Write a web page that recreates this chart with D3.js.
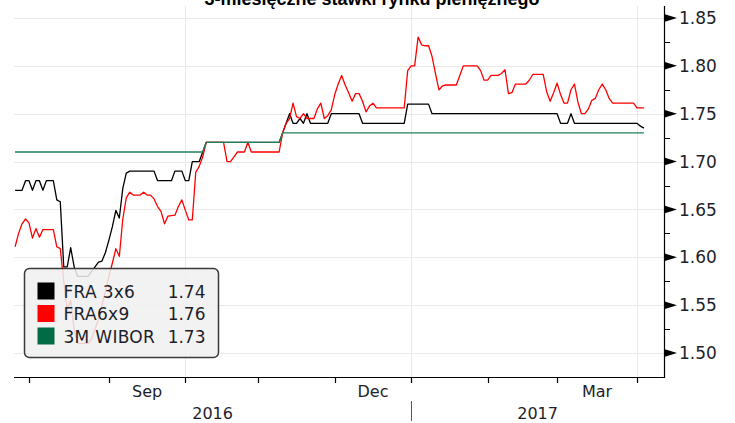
<!DOCTYPE html>
<html>
<head>
<meta charset="utf-8">
<script src="https://cdn.jsdelivr.net/npm/d3@7"></script>
<style>
    html, body { margin: 0; padding: 0; background: #fff; }
    svg { display: block; }
</style>
</head>
<body>
<div id="chart"></div>
<script>
'use strict';

var title = '3-miesięczne stawki rynku pieniężnego';

var seriesNames = ['FRA 3x6', 'FRA6x9', '3M WIBOR'];
var seriesColors = ['#000000', '#ff0000', '#006b45'];
var lastValues = ['1.74', '1.76', '1.73'];

var yTicks = [1.50, 1.55, 1.60, 1.65, 1.70, 1.75, 1.80, 1.85];
var monthLabels = ['Sep', 'Dec', 'Mar'];
var yearLabels = ['2016', '2017'];

var fra3x6 = [
    ['2016-07-26', 1.67], ['2016-07-28', 1.67], ['2016-07-29', 1.68], ['2016-08-01', 1.68],
    ['2016-08-02', 1.67], ['2016-08-03', 1.68], ['2016-08-04', 1.68], ['2016-08-05', 1.67],
    ['2016-08-08', 1.68], ['2016-08-10', 1.68], ['2016-08-11', 1.66], ['2016-08-12', 1.658],
    ['2016-08-15', 1.59], ['2016-08-16', 1.59], ['2016-08-17', 1.61], ['2016-08-18', 1.59],
    ['2016-08-19', 1.58], ['2016-08-24', 1.58], ['2016-08-25', 1.585], ['2016-08-26', 1.59],
    ['2016-08-29', 1.595], ['2016-08-30', 1.596], ['2016-08-31', 1.605], ['2016-09-01', 1.618],
    ['2016-09-02', 1.632], ['2016-09-05', 1.649], ['2016-09-06', 1.641], ['2016-09-07', 1.672],
    ['2016-09-08', 1.688], ['2016-09-09', 1.69], ['2016-09-20', 1.69], ['2016-09-21', 1.68],
    ['2016-09-27', 1.68], ['2016-09-28', 1.69], ['2016-09-30', 1.69], ['2016-10-03', 1.68],
    ['2016-10-04', 1.68], ['2016-10-05', 1.70], ['2016-10-07', 1.70], ['2016-10-10', 1.71],
    ['2016-10-11', 1.72], ['2016-11-09', 1.72], ['2016-11-10', 1.73], ['2016-11-11', 1.74],
    ['2016-11-14', 1.75], ['2016-11-15', 1.74], ['2016-11-16', 1.74], ['2016-11-17', 1.745],
    ['2016-11-18', 1.74], ['2016-11-21', 1.75], ['2016-11-22', 1.74], ['2016-11-29', 1.74],
    ['2016-11-30', 1.75], ['2016-12-12', 1.75], ['2016-12-13', 1.74], ['2016-12-29', 1.74],
    ['2016-12-30', 1.76], ['2017-01-09', 1.76], ['2017-01-10', 1.75], ['2017-03-01', 1.75],
    ['2017-03-02', 1.74], ['2017-03-06', 1.74], ['2017-03-07', 1.75], ['2017-03-08', 1.74],
    ['2017-04-03', 1.74], ['2017-04-04', 1.737], ['2017-04-05', 1.735]
];

var fra6x9 = [
    ['2016-07-26', 1.611], ['2016-07-27', 1.625], ['2016-07-28', 1.635], ['2016-07-29', 1.640],
    ['2016-08-01', 1.636], ['2016-08-02', 1.620], ['2016-08-03', 1.630], ['2016-08-04', 1.621],
    ['2016-08-05', 1.629], ['2016-08-10', 1.629], ['2016-08-11', 1.611], ['2016-08-12', 1.609],
    ['2016-08-15', 1.575], ['2016-08-16', 1.545], ['2016-08-17', 1.555], ['2016-08-18', 1.525],
    ['2016-08-19', 1.51], ['2016-08-24', 1.51], ['2016-08-25', 1.515], ['2016-08-26', 1.525],
    ['2016-08-29', 1.535], ['2016-08-30', 1.55], ['2016-08-31', 1.565], ['2016-09-01', 1.58],
    ['2016-09-02', 1.594], ['2016-09-05', 1.609], ['2016-09-06', 1.601], ['2016-09-07', 1.64],
    ['2016-09-08', 1.662], ['2016-09-09', 1.668], ['2016-09-12', 1.665], ['2016-09-14', 1.665],
    ['2016-09-15', 1.668], ['2016-09-16', 1.665], ['2016-09-19', 1.665], ['2016-09-20', 1.661],
    ['2016-09-21', 1.653], ['2016-09-22', 1.648], ['2016-09-23', 1.635], ['2016-09-26', 1.643],
    ['2016-09-28', 1.644], ['2016-09-29', 1.653], ['2016-09-30', 1.660], ['2016-10-03', 1.649],
    ['2016-10-04', 1.639], ['2016-10-05', 1.639], ['2016-10-06', 1.689], ['2016-10-07', 1.695],
    ['2016-10-10', 1.705], ['2016-10-11', 1.72], ['2016-10-18', 1.72], ['2016-10-19', 1.70],
    ['2016-10-20', 1.70], ['2016-10-21', 1.705], ['2016-10-24', 1.71], ['2016-10-26', 1.71],
    ['2016-10-27', 1.72], ['2016-10-28', 1.71], ['2016-11-09', 1.71], ['2016-11-10', 1.73],
    ['2016-11-11', 1.74], ['2016-11-14', 1.745], ['2016-11-15', 1.761], ['2016-11-16', 1.747],
    ['2016-11-17', 1.745], ['2016-11-18', 1.75], ['2016-11-21', 1.745], ['2016-11-23', 1.745],
    ['2016-11-24', 1.755], ['2016-11-25', 1.761], ['2016-11-28', 1.745], ['2016-11-29', 1.748],
    ['2016-11-30', 1.754], ['2016-12-01', 1.77], ['2016-12-02', 1.781], ['2016-12-05', 1.79],
    ['2016-12-06', 1.78], ['2016-12-07', 1.772], ['2016-12-08', 1.763], ['2016-12-09', 1.771],
    ['2016-12-12', 1.771], ['2016-12-13', 1.763], ['2016-12-14', 1.752], ['2016-12-15', 1.758],
    ['2016-12-16', 1.761], ['2016-12-19', 1.756], ['2016-12-29', 1.756], ['2016-12-30', 1.795],
    ['2017-01-02', 1.80], ['2017-01-03', 1.80], ['2017-01-04', 1.83], ['2017-01-05', 1.822],
    ['2017-01-06', 1.821], ['2017-01-09', 1.821], ['2017-01-10', 1.81], ['2017-01-11', 1.792],
    ['2017-01-12', 1.775], ['2017-01-13', 1.779], ['2017-01-16', 1.78], ['2017-01-19', 1.78],
    ['2017-01-20', 1.79], ['2017-01-23', 1.80], ['2017-01-27', 1.80], ['2017-01-30', 1.795],
    ['2017-01-31', 1.785], ['2017-02-01', 1.785], ['2017-02-02', 1.79], ['2017-02-06', 1.79],
    ['2017-02-07', 1.792], ['2017-02-08', 1.796], ['2017-02-09', 1.771], ['2017-02-10', 1.772],
    ['2017-02-13', 1.781], ['2017-02-16', 1.781], ['2017-02-17', 1.785], ['2017-02-20', 1.791],
    ['2017-02-23', 1.791], ['2017-02-24', 1.773], ['2017-02-27', 1.763], ['2017-02-28', 1.772],
    ['2017-03-01', 1.782], ['2017-03-02', 1.770], ['2017-03-03', 1.761], ['2017-03-06', 1.761],
    ['2017-03-07', 1.775], ['2017-03-08', 1.781], ['2017-03-09', 1.762], ['2017-03-10', 1.75],
    ['2017-03-13', 1.75], ['2017-03-14', 1.755], ['2017-03-15', 1.764], ['2017-03-16', 1.766],
    ['2017-03-17', 1.775], ['2017-03-20', 1.781], ['2017-03-21', 1.775], ['2017-03-22', 1.766],
    ['2017-03-23', 1.761], ['2017-03-31', 1.761], ['2017-04-03', 1.756], ['2017-04-05', 1.756]
];

var wibor3m = [
    ['2016-07-26', 1.71], ['2016-10-10', 1.71], ['2016-10-11', 1.72], ['2016-11-09', 1.72],
    ['2016-11-10', 1.73], ['2017-04-05', 1.73]
];

var width = 735,
    height = 423,
    plotLeft = 14,
    plotRight = 664,
    plotTop = 6,
    plotBottom = 377;

var parse = d3.timeParse('%Y-%m-%d');
var font = '"DejaVu Sans", Verdana, sans-serif';

// the time axis counts trading days (weekends left out)
var tradingDays = d3.timeDay.range(new Date(2016, 6, 26), new Date(2017, 3, 7))
    .filter(function(d) { return d.getDay() !== 0 && d.getDay() !== 6; });

function dayIndex(date) {
    return d3.bisectLeft(tradingDays, date);
}

var x = d3.scaleLinear()
    .domain([dayIndex(new Date(2016, 7, 1)), dayIndex(new Date(2017, 3, 3))])
    .range([29, 637]);

var y = d3.scaleLinear()
    .domain([1.50, 1.85])
    .range([353, 18]);

var svg = d3.select('#chart')
    .append('svg')
    .attr('width', width)
    .attr('height', height);

// grid
svg.append('g')
    .selectAll('line')
    .data(yTicks)
    .enter().append('line')
    .attr('x1', plotLeft).attr('x2', plotRight)
    .attr('y1', function(d) { return Math.round(y(d)) + 0.5; })
    .attr('y2', function(d) { return Math.round(y(d)) + 0.5; })
    .attr('stroke', '#e9e9e9');

var monthStarts = d3.timeMonth.range(new Date(2016, 7, 1), new Date(2017, 4, 1));
var quarterStarts = monthStarts.filter(function(d) { return d.getMonth() % 3 === 0; });

svg.append('g')
    .selectAll('line')
    .data(quarterStarts)
    .enter().append('line')
    .attr('x1', function(d) { return Math.round(x(dayIndex(d))) + 0.5; })
    .attr('x2', function(d) { return Math.round(x(dayIndex(d))) + 0.5; })
    .attr('y1', plotTop).attr('y2', plotBottom)
    .attr('stroke', '#e9e9e9');

// title, cut by the top edge as in the original export
svg.append('text')
    .attr('x', 372).attr('y', 5)
    .attr('text-anchor', 'middle')
    .style('font-family', '"Liberation Sans", Arial, sans-serif')
    .style('font-weight', 'bold')
    .style('font-size', '18px')
    .text(title);

// series
var line = d3.line()
    .x(function(d) { return x(dayIndex(parse(d[0]))); })
    .y(function(d) { return y(d[1]); });

[fra3x6, fra6x9, wibor3m].forEach(function(series, i) {
    svg.append('path')
        .datum(series)
        .attr('fill', 'none')
        .attr('stroke', i === 2 ? '#1f8058' : seriesColors[i])
        .attr('stroke-width', 1.3)
        .attr('stroke-linejoin', 'round')
        .attr('d', line);
});

// right value axis
svg.append('line')
    .attr('x1', plotRight + 0.5).attr('x2', plotRight + 0.5)
    .attr('y1', plotTop).attr('y2', plotBottom + 1)
    .attr('stroke', '#000').attr('stroke-width', 1.2);

var minorTicks = d3.range(yTicks.length - 1).map(function(i) {
    return (yTicks[i] + yTicks[i + 1]) / 2;
});

svg.append('g')
    .selectAll('line')
    .data(minorTicks)
    .enter().append('line')
    .attr('x1', plotRight).attr('x2', plotRight + 6)
    .attr('y1', function(d) { return Math.round(y(d)) + 0.5; })
    .attr('y2', function(d) { return Math.round(y(d)) + 0.5; })
    .attr('stroke', '#000');

var yTick = svg.append('g')
    .selectAll('g')
    .data(yTicks)
    .enter().append('g')
    .attr('transform', function(d) { return 'translate(' + plotRight + ',' + y(d) + ')'; });

yTick.append('path')
    .attr('d', 'M0,-4L13,0L0,4Z')
    .attr('fill', '#000');

yTick.append('text')
    .attr('x', 15).attr('dy', '0.36em')
    .style('font-family', font)
    .style('font-size', '17px')
    .style('fill', '#1e1e2a')
    .text(function(d) { return d.toFixed(2); });

// bottom time axis
svg.append('line')
    .attr('x1', plotLeft).attr('x2', plotRight + 1)
    .attr('y1', plotBottom + 0.5).attr('y2', plotBottom + 0.5)
    .attr('stroke', '#000').attr('stroke-width', 1.2);

svg.append('g')
    .selectAll('line')
    .data(monthStarts)
    .enter().append('line')
    .attr('x1', function(d) { return Math.round(x(dayIndex(d))) + 0.5; })
    .attr('x2', function(d) { return Math.round(x(dayIndex(d))) + 0.5; })
    .attr('y1', plotBottom).attr('y2', plotBottom + 6)
    .attr('stroke', '#000').attr('stroke-width', 1.2);

var labelledMonths = monthStarts.filter(function(d) { return d.getMonth() % 3 === 2; });

svg.append('g')
    .selectAll('text')
    .data(labelledMonths)
    .enter().append('text')
    .attr('x', function(d) {
        return (x(dayIndex(d)) + x(dayIndex(d3.timeMonth.offset(d, 1)))) / 2;
    })
    .attr('y', 397)
    .attr('text-anchor', 'middle')
    .style('font-family', font)
    .style('font-size', '16px')
    .style('fill', '#1e1e2a')
    .text(function(d, i) { return monthLabels[i]; });

var yearStart = x(dayIndex(new Date(2017, 0, 1)));
var yearCenters = [(plotLeft + yearStart) / 2, (yearStart + plotRight) / 2];

svg.append('line')
    .attr('x1', Math.round(yearStart) + 0.5).attr('x2', Math.round(yearStart) + 0.5)
    .attr('y1', 401).attr('y2', 421)
    .attr('stroke', '#555');

svg.append('g')
    .selectAll('text')
    .data(yearLabels)
    .enter().append('text')
    .attr('x', function(d, i) { return yearCenters[i]; })
    .attr('y', 419)
    .attr('text-anchor', 'middle')
    .style('font-family', font)
    .style('font-size', '16px')
    .style('fill', '#1e1e2a')
    .text(function(d) { return d; });

// legend
var legend = svg.append('g').attr('transform', 'translate(24.5,268.5)');

legend.append('rect')
    .attr('width', 194).attr('height', 89)
    .attr('rx', 5).attr('ry', 5)
    .attr('fill', '#f0f0f0').attr('fill-opacity', 0.86)
    .attr('stroke', '#3a3a3a').attr('stroke-width', 1.5);

var entry = legend.selectAll('g')
    .data(seriesNames)
    .enter().append('g')
    .attr('transform', function(d, i) { return 'translate(0,' + (14 + i * 22.5) + ')'; });

entry.append('rect')
    .attr('x', 13).attr('width', 17).attr('height', 17)
    .attr('fill', function(d, i) { return seriesColors[i]; });

entry.append('text')
    .attr('x', 39).attr('y', 15)
    .style('font-family', font)
    .style('font-size', '17px')
    .style('letter-spacing', '0.3px')
    .style('fill', '#1e1e2a')
    .text(function(d) { return d; });

entry.append('text')
    .attr('x', 181).attr('y', 15)
    .attr('text-anchor', 'end')
    .style('font-family', font)
    .style('font-size', '17px')
    .style('fill', '#1e1e2a')
    .text(function(d, i) { return lastValues[i]; });
</script>
</body>
</html>
